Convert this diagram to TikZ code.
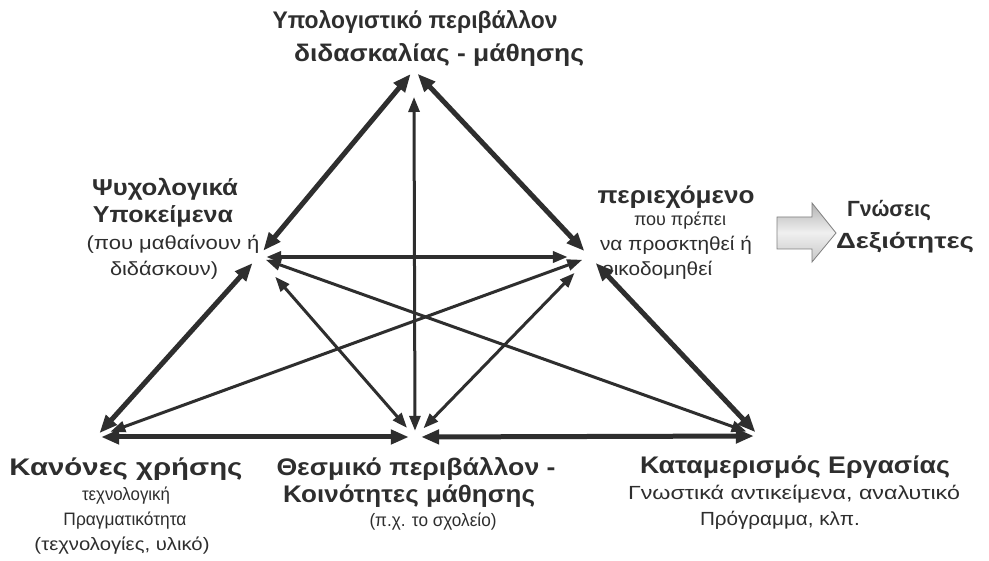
\documentclass[tikz,border=0pt]{standalone}
\usepackage{fontspec}
\usepackage{graphicx}
\setmainfont{Liberation Sans}
\usetikzlibrary{arrows.meta}
\definecolor{ink}{HTML}{2E2E2E}
\newsavebox\fitbox
\newcommand\fitw[2]{\sbox\fitbox{#2}\pgfmathsetmacro\fitfac{#1/\the\wd\fitbox}\scalebox{\fitfac}[1]{\usebox\fitbox}}
\begin{document}
\begin{tikzpicture}[x=1pt,y=-1pt,
  thickedge/.style={draw=ink, line width=5pt, {Triangle[length=18pt,width=14pt]}-{Triangle[length=18pt,width=14pt]}},
  thinedge/.style={draw=ink, line width=3pt, {Triangle[length=15pt,width=11pt]}-{Triangle[length=15pt,width=11pt]}},
  vtx/.style={circle, inner sep=0pt, minimum size=#1},
  head/.style={font=\fontsize{#1}{#1}\selectfont\bfseries, text=ink, inner sep=0pt},
  sub/.style={font=\fontsize{#1}{#1}\selectfont, text=ink, inner sep=0pt}]
\useasboundingbox (0,0) rectangle (989,561);
\fill[white] (0,0) rectangle (989,561);

% vertices
\node[vtx=10pt] (T) at (414,70) {};
\node[vtx=16pt] (L) at (258,257) {};
\node[vtx=16pt] (R) at (590,257) {};
\node[vtx=10pt] (BL) at (96,437) {};
\node[vtx=12pt] (BM) at (415,437) {};
\node[vtx=10pt] (BR) at (759,436) {};
\coordinate (Tv) at (414,97);

% thick outer edges
\draw[thickedge] (T) -- (L);
\draw[thickedge] (T) -- (R);
\draw[thickedge] (L) -- (BL);
\draw[thickedge] (R) -- (BR);
\draw[thickedge] (BL) -- (BM);
\draw[thickedge] (BM) -- (BR);

% inner edges
\draw[thinedge] (Tv) -- (BM);
\draw[thinedge, line width=4pt, shorten >=14pt] (L) -- (R);
\draw[thinedge, shorten <=18pt, shorten >=6pt] (L) -- (BM);
\draw[thinedge, shorten <=14pt, shorten >=6pt] (R) -- (BM);
\draw[thinedge, shorten >=8pt] (L) -- (BR);
\draw[thinedge, shorten >=10pt] (R) -- (BL);

% block arrow
\path[draw=black!50, line width=0.8pt, top color=black!30, bottom color=black!22, middle color=black!6]
  (777,217) -- (812,217) -- (812,203) -- (836,233) -- (812,262) -- (812,249) -- (777,249) -- cycle;

% texts
\node[head=24] (t1) at (415,22) {\fitw{285}{Υπολογιστικό περιβάλλον}};
\node[head=24] (t2) at (439,55) {\fitw{290}{διδασκαλίας - μάθησης}};

\node[head=23] (l1) at (165,189) {\fitw{146}{Ψυχολογικά}};
\node[head=23] (l2) at (163,216) {\fitw{140}{Υποκείμενα}};
\node[sub=19] (l3) at (173,244) {\fitw{173}{(που μαθαίνουν ή}};
\node[sub=19] (l4) at (164,270) {\fitw{108}{διδάσκουν)}};

\node[head=24] (r1) at (676,197) {\fitw{157}{περιεχόμενο}};
\node[sub=18] (r2) at (680,221) {\fitw{92}{που πρέπει}};
\node[sub=19] (r3) at (676,245) {\fitw{152}{να προσκτηθεί ή}};
\node[sub=19, anchor=west] (r4) at (602,270) {\fitw{110}{οικοδομηθεί}};

\node[head=22] (g1) at (889,211) {\fitw{84}{Γνώσεις}};
\node[head=22] (g2) at (905,243) {\fitw{138}{Δεξιότητες}};

\node[head=24] (a1) at (126,469) {\fitw{233}{Κανόνες χρήσης}};
\node[sub=18] (a2) at (126,496) {\fitw{88}{τεχνολογική}};
\node[sub=18] (a3) at (125,521) {\fitw{123}{Πραγματικότητα}};
\node[sub=18] (a4) at (122,546) {\fitw{175}{(τεχνολογίες, υλικό)}};

\node[head=24] (b1) at (416,469) {\fitw{279}{Θεσμικό περιβάλλον -}};
\node[head=24] (b2) at (409,496) {\fitw{252}{Κοινότητες μάθησης}};
\node[sub=18] (b3) at (433,522) {\fitw{127}{(π.χ. το σχολείο)}};

\node[head=24] (c1) at (795,467) {\fitw{310}{Καταμερισμός Εργασίας}};
\node[sub=19] (c2) at (794,494) {\fitw{332}{Γνωστικά αντικείμενα, αναλυτικό}};
\node[sub=19] (c3) at (780,520) {\fitw{160}{Πρόγραμμα, κλπ.}};
\end{tikzpicture}
\end{document}
